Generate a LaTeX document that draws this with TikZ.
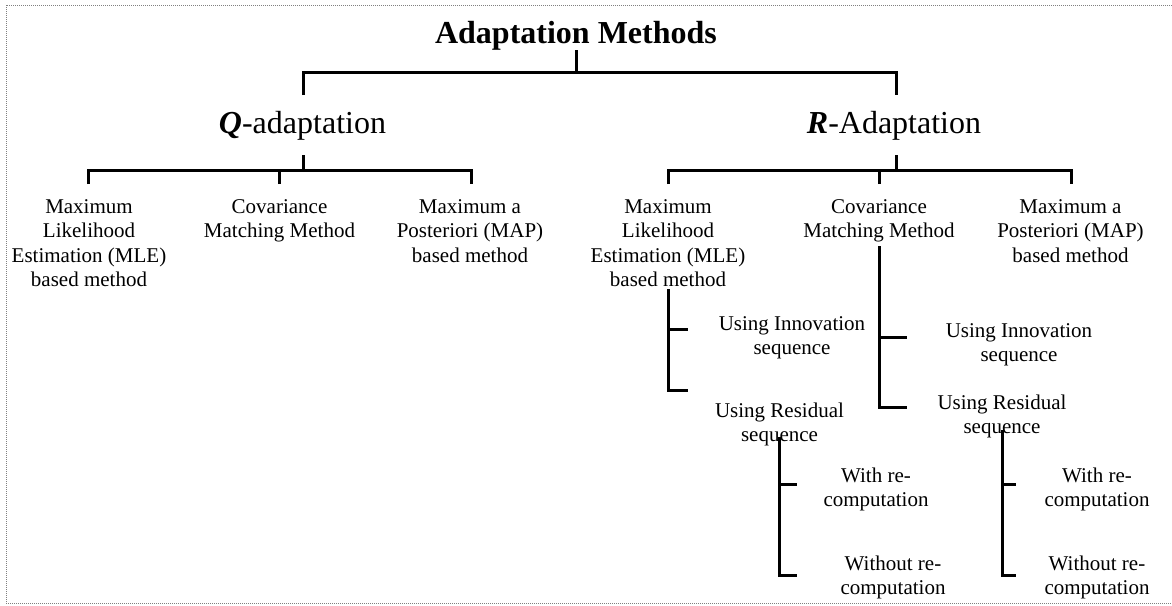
\documentclass[tikz,border=0pt]{standalone}
\usepackage{fontspec}
\setmainfont{Liberation Serif}
\newcommand{\lbl}[1]{\begin{tabular}[t]{@{}c@{}}#1\end{tabular}}
\tikzset{
  conn/.style={line width=3pt, line join=miter},
  frame/.style={draw=gray, line width=0.9pt, dash pattern=on 1pt off 1pt},
  big/.style={inner sep=0pt, anchor=base, font=\fontsize{32}{36}\selectfont},
  small/.style={inner sep=0pt, anchor=base, font=\fontsize{21}{24.5}\selectfont}
}
\begin{document}
\begin{tikzpicture}[x=1pt,y=-1pt]
\useasboundingbox (0,0) rectangle (1172,605);
\draw[frame] (1172,5) -- (6,5) -- (6,603) -- (1172,603);

% nodes
\node[big] (T) at (576,43) {\bfseries Adaptation Methods};
\node[big] (Q) at (302.5,133) {\textbf{\textit{Q}}-adaptation};
\node[big] (R) at (894,133) {\textbf{\textit{R}}-Adaptation};

\node[small] (QMLE) at (89,213) {\lbl{Maximum\\Likelihood\\Estimation (MLE)\\based method}};
\node[small] (QCM) at (279.5,213) {\lbl{Covariance\\Matching Method}};
\node[small] (QMAP) at (470,213) {\lbl{Maximum a\\Posteriori (MAP)\\based method}};
\node[small] (RMLE) at (668,213) {\lbl{Maximum\\Likelihood\\Estimation (MLE)\\based method}};
\node[small] (RCM) at (879,213) {\lbl{Covariance\\Matching Method}};
\node[small] (RMAP) at (1070.5,213) {\lbl{Maximum a\\Posteriori (MAP)\\based method}};

\node[small] (RMI) at (792,330) {\lbl{Using Innovation\\sequence}};
\node[small] (RMR) at (779.5,417) {\lbl{Using Residual\\sequence}};
\node[small] (RMRW) at (876,482) {\lbl{With re-\\computation}};
\node[small] (RMRWO) at (893,570) {\lbl{Without re-\\computation}};

\node[small] (RCI) at (1019,337) {\lbl{Using Innovation\\sequence}};
\node[small] (RCR) at (1002,409) {\lbl{Using Residual\\sequence}};
\node[small] (RCRW) at (1097,482) {\lbl{With re-\\computation}};
\node[small] (RCRWO) at (1097,570) {\lbl{Without re-\\computation}};

% junction coordinates
\coordinate (Tj) at (576,72);
\coordinate (Qt) at (303,95);
\coordinate (Rt) at (896,95);
\coordinate (Qs) at (303,155);
\coordinate (Qj) at (303,170);
\coordinate (Rs) at (896,155);
\coordinate (Rj) at (896,170);
\coordinate (QMLEt) at (88,184);
\coordinate (QCMt) at (279,184);
\coordinate (QMAPt) at (471,184);
\coordinate (RMLEt) at (668,184);
\coordinate (RCMt) at (879,184);
\coordinate (RMAPt) at (1071,184);

% top level
\draw[conn] (T.south) -- (Tj);
\draw[conn] (Qt) |- (Tj) -| (Rt);
% Q level
\draw[conn] (Qs) -- (Qj);
\draw[conn] (QMLEt) |- (Qj) -| (QMAPt);
\draw[conn] (QCMt) -- (QCMt |- Qj);
% R level
\draw[conn] (Rs) -- (Rj);
\draw[conn] (RMLEt) |- (Rj) -| (RMAPt);
\draw[conn] (RCMt) -- (RCMt |- Rj);

% R MLE subtree
\coordinate (RMLEb) at (668,289);
\coordinate (RMIe) at (688,329);
\coordinate (RMRe) at (688,390);
\draw[conn] (RMLEb) |- (RMRe);
\draw[conn] (RMLEb |- RMIe) -- (RMIe);
\coordinate (RMRb) at (779,437);
\coordinate (RMRWe) at (797,484);
\coordinate (RMRWOe) at (797,575);
\draw[conn] (RMRb) |- (RMRWOe);
\draw[conn] (RMRb |- RMRWe) -- (RMRWe);

% R CM subtree
\coordinate (RCMb) at (879,246);
\coordinate (RCIe) at (907,337);
\coordinate (RCRe) at (907,407);
\draw[conn] (RCMb) |- (RCRe);
\draw[conn] (RCMb |- RCIe) -- (RCIe);
\coordinate (RCRb) at (1002,430);
\coordinate (RCRWe) at (1016,484);
\coordinate (RCRWOe) at (1016,575);
\draw[conn] (RCRb) |- (RCRWOe);
\draw[conn] (RCRb |- RCRWe) -- (RCRWe);
\end{tikzpicture}
\end{document}
